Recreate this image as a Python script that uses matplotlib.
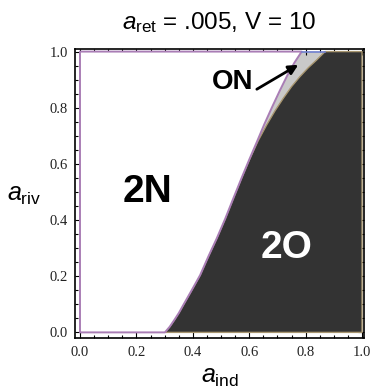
import matplotlib
matplotlib.use("Agg")
import matplotlib.pyplot as plt
from matplotlib.patches import Polygon
from matplotlib.ticker import MultipleLocator

plt.rcParams['mathtext.fontset'] = 'custom'
plt.rcParams['mathtext.rm'] = 'Liberation Sans'
plt.rcParams['mathtext.it'] = 'Liberation Sans:italic'
plt.rcParams['font.family'] = ['Liberation Sans', 'DejaVu Sans']

# ---- data ----
# boundary of the dark "2O" region (x as a function of y)
dark_x = [0.301, 0.318, 0.335, 0.351, 0.366, 0.396, 0.426, 0.455, 0.485, 0.515, 0.544,
          0.573, 0.603, 0.632, 0.662, 0.692, 0.721, 0.750, 0.780, 0.810, 0.839, 0.855, 0.869]
dark_y = [0.000, 0.020, 0.045, 0.070, 0.097, 0.150, 0.204, 0.270, 0.335, 0.405, 0.478,
          0.550, 0.620, 0.683, 0.739, 0.790, 0.834, 0.875, 0.911, 0.943, 0.970, 0.986, 1.000]
# boundary of the white "2N" region
twoN_x = [0.301, 0.318, 0.335, 0.351, 0.366, 0.396, 0.426, 0.455, 0.485, 0.515, 0.544,
          0.573, 0.600, 0.627, 0.653, 0.680, 0.708, 0.735, 0.760, 0.786]
twoN_y = [0.000, 0.020, 0.045, 0.070, 0.097, 0.150, 0.204, 0.270, 0.335, 0.405, 0.478,
          0.550, 0.615, 0.678, 0.740, 0.800, 0.860, 0.915, 0.960, 1.000]

region_labels = ["2N", "2O", "ON"]
label_pos = [(0.24, 0.50), (0.733, 0.30), (0.541, 0.893)]
arrow_tip = (0.774, 0.953)
arrow_tail = (0.627, 0.866)

title_text = r"$a_{\mathrm{ret}}$ = .005, V = 10"
xlabel_text = r"$a_{\mathrm{ind}}$"
ylabel_text = r"$a_{\mathrm{riv}}$"
ticks = [0.0, 0.2, 0.4, 0.6, 0.8, 1.0]
tick_labels = ["0.0", "0.2", "0.4", "0.6", "0.8", "1.0"]

# ---- figure ----
fig = plt.figure(figsize=(3.71, 3.90), dpi=100)
ax = fig.add_axes([75/371, 1 - 338/390, 289/371, 289.5/390])
ax.set_xlim(-0.0177, 1.007)
ax.set_ylim(-0.020, 1.011)

purple = '#A97DB5'
dark = '#333333'
tan = '#A89670'
gray = '#C9C9C9'
blue = '#7080D0'

# gray ON region between 2N boundary and dark boundary
on_poly = list(zip(twoN_x, twoN_y)) + [(dark_x[-1], 1.0)] + list(zip(dark_x[::-1], dark_y[::-1]))
ax.add_patch(Polygon(on_poly, closed=True, facecolor=gray, edgecolor='none', zorder=1))

# dark 2O region
dark_poly = list(zip(dark_x, dark_y)) + [(1.0, 1.0), (1.0, 0.0)]
ax.add_patch(Polygon(dark_poly, closed=True, facecolor=dark, edgecolor=tan, lw=1.0,
                     joinstyle='round', zorder=2))

# white 2N region outline
n_poly = [(0.0, 0.0)] + list(zip(twoN_x, twoN_y)) + [(0.0, 1.0)]
ax.add_patch(Polygon(n_poly, closed=True, facecolor='white', edgecolor=purple, lw=1.4,
                     joinstyle='round', zorder=3))

# blue top edge of ON region
ax.plot([twoN_x[-1], dark_x[-1]], [1.0, 1.0], color=blue, lw=1.2, zorder=3)

# labels
ax.text(*label_pos[0], region_labels[0], fontsize=28, fontweight='bold', color='black',
        ha='center', va='center', zorder=5)
ax.text(*label_pos[1], region_labels[1], fontsize=28, fontweight='bold', color='white',
        ha='center', va='center', zorder=5)
ax.text(*label_pos[2], region_labels[2], fontsize=20, fontweight='bold', color='black',
        ha='center', va='center', zorder=5)
ax.annotate("", xy=arrow_tip, xytext=arrow_tail,
            arrowprops=dict(arrowstyle='-|>', color='black', lw=2.0, mutation_scale=14,
                            shrinkA=0, shrinkB=0), zorder=6)

# ticks
ax.set_xticks(ticks)
ax.set_yticks(ticks)
ax.set_xticklabels(tick_labels, family='Liberation Serif', fontsize=10.5, color='#222222')
ax.set_yticklabels(tick_labels, family='Liberation Serif', fontsize=10.5, color='#222222')
ax.xaxis.set_minor_locator(MultipleLocator(0.05))
ax.yaxis.set_minor_locator(MultipleLocator(0.05))
ax.tick_params(which='both', direction='in', top=True, right=True, width=0.8)
ax.tick_params(axis='x', which='major', length=4.5, pad=6)
ax.tick_params(axis='y', which='major', length=4.5, pad=5)
ax.tick_params(which='minor', length=2.2)
for s in ax.spines.values():
    s.set_linewidth(1.2)
    s.set_zorder(10)

fig.text(219/371, 1 - 23/390, title_text, fontsize=17.5, ha='center', va='center')
fig.text(220/371, 1 - 377/390, xlabel_text, fontsize=18, ha='center', va='center')
fig.text(24/371, 1 - 195/390, ylabel_text, fontsize=18, ha='center', va='center')

fig.savefig("out.png", dpi=100)
